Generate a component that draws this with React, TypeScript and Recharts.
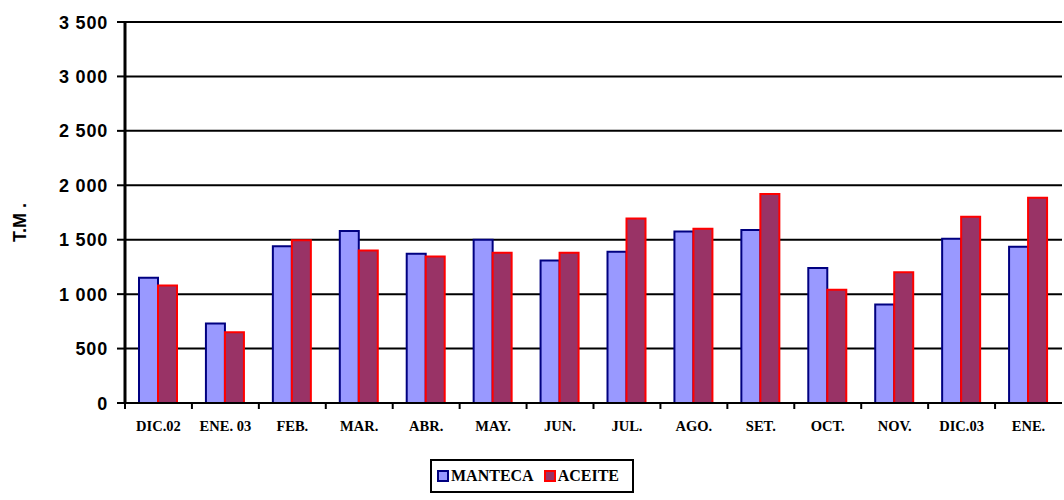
import React from 'react';
import { BarChart, Bar, XAxis, YAxis, CartesianGrid } from 'recharts';

const months = ['DIC.02', 'ENE. 03', 'FEB.', 'MAR.', 'ABR.', 'MAY.', 'JUN.', 'JUL.', 'AGO.', 'SET.', 'OCT.', 'NOV.', 'DIC.03', 'ENE.'];
const manteca = [1150, 730, 1440, 1580, 1370, 1500, 1310, 1390, 1575, 1590, 1240, 905, 1510, 1435];
const aceite = [1080, 650, 1495, 1400, 1345, 1380, 1380, 1695, 1600, 1920, 1040, 1200, 1710, 1885];
const yTicks = [0, 500, 1000, 1500, 2000, 2500, 3000, 3500];

const data = months.map((m, i) => ({ month: m, manteca: manteca[i], aceite: aceite[i] }));

const W = 1064;
const H = 500;
const MARGIN = { top: 22, right: 2, bottom: 41, left: 0 };
const Y_WIDTH = 125;
const BAND = (W - MARGIN.left - MARGIN.right - Y_WIDTH) / months.length;

const fmt = (v: number) => String(v).replace(/\B(?=(\d{3})+(?!\d))/g, ' ');

const MonthTick = (props: any) => {
  const { x, y, payload } = props;
  return (
    <g>
      <line x1={x - BAND / 2} x2={x - BAND / 2} y1={y - 8} y2={y - 2} stroke="#000" strokeWidth={2} />
      <text x={x} y={y + 20} textAnchor="middle" fontFamily="'Liberation Serif', serif" fontWeight="bold" fontSize={14.5} fill="#000">
        {payload.value}
      </text>
    </g>
  );
};

const YTick = (props: any) => {
  const { x, y, payload } = props;
  return (
    <text x={x} y={y} dy={6.5} textAnchor="end" fontFamily="'Liberation Sans', Arial, sans-serif" fontWeight="bold" fontSize={18} letterSpacing={0.8} fill="#000">
      {fmt(payload.value)}
    </text>
  );
};

const LegendBox = () => (
  <div style={{ display: 'flex', justifyContent: 'center' }}>
    <div
      style={{
        boxSizing: 'border-box',
        height: 34,
        width: 204,
        border: '2px solid #000',
        display: 'flex',
        alignItems: 'center',
        paddingLeft: 5,
        fontFamily: "'Liberation Serif', serif",
        fontWeight: 'bold',
        fontSize: 16,
        color: '#000',
      }}
    >
      <span style={{ display: 'inline-block', width: 8, height: 8, background: '#9999FF', border: '2px solid #000080', marginRight: 2 }} />
      <span>MANTECA</span>
      <span style={{ display: 'inline-block', width: 8, height: 8, background: '#993366', border: '2px solid #FF0000', marginLeft: 10, marginRight: 2 }} />
      <span>ACEITE</span>
    </div>
  </div>
);

export default function App() {
  return (
    <div style={{ position: 'absolute', left: 0, top: 0, width: W, height: H, background: '#fff' }}>
      <BarChart width={W} height={H} data={data} margin={MARGIN} barGap={0} barCategoryGap={14}>
        <CartesianGrid yAxisId="left" vertical={false} stroke="#000" strokeWidth={2} />
        <XAxis
          dataKey="month"
          axisLine={{ stroke: '#000', strokeWidth: 2 }}
          tickLine={false}
          tick={<MonthTick />}
          interval={0}
          height={56}
        />
        <YAxis
          yAxisId="left"
          width={Y_WIDTH}
          domain={[0, 3500]}
          ticks={yTicks}
          axisLine={{ stroke: '#000', strokeWidth: 3 }}
          tickLine={{ stroke: '#000', strokeWidth: 2 }}
          tickSize={8}
          tickMargin={9}
          tick={<YTick />}
          label={{
            value: 'T.M .',
            angle: -90,
            position: 'insideLeft',
            offset: 20,
            dy: 10,
            style: { fill: '#000', fontFamily: "'Liberation Sans', Arial, sans-serif", fontWeight: 'bold', fontSize: 18, textAnchor: 'middle' },
          }}
        />
        <YAxis
          yAxisId="right"
          orientation="right"
          width={0}
          domain={[0, 3500]}
          tick={false}
          tickLine={false}
          axisLine={{ stroke: '#000', strokeWidth: 2 }}
        />
        <Bar yAxisId="left" dataKey="manteca" name="MANTECA" fill="#9999FF" stroke="#000080" strokeWidth={2} isAnimationActive={false} />
        <Bar yAxisId="left" dataKey="aceite" name="ACEITE" fill="#993366" stroke="#FF0000" strokeWidth={2} isAnimationActive={false} />
      </BarChart>
      <div style={{ position: 'absolute', left: 0, top: 459, width: W }}>
        <LegendBox />
      </div>
    </div>
  );
}
